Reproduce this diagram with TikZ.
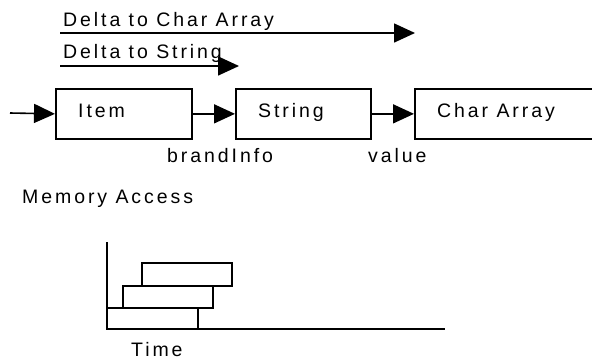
\documentclass[tikz,border=0pt]{standalone}
\usepackage{fontspec}
\setmainfont{Liberation Sans}[LetterSpace=15]
\usetikzlibrary{arrows.meta}
\begin{document}
\begin{tikzpicture}[x=1pt,y=-1pt,
  box/.style={draw,line width=1.7pt,rectangle,inner sep=0pt,anchor=north west,minimum height=50pt},
  lbl/.style={anchor=base west,inner sep=0pt,font=\fontsize{19.5}{22}\selectfont},
  arr/.style={line width=1.6pt,-{Triangle[length=21pt,width=19pt]}},
  bar/.style={draw,line width=1.7pt},
  axis/.style={line width=1.3pt}]
\useasboundingbox (0,0) rectangle (592,360);
% delta arrows
\coordinate (d1s) at (60,33);
\coordinate (d1e) at (415,33);
\coordinate (d2s) at (60,66);
\coordinate (d2e) at (239,66);
\draw[arr] (d1s) -- (d1e);
\draw[arr] (d2s) -- (d2e);
\node[lbl] (t1) at (63,26) {Delta to Char Array};
\node[lbl] (t2) at (63,58) {Delta to String};
% boxes
\node[box,minimum width=136pt] (item) at (55,88) {};
\node[box,minimum width=135pt] (string) at (235,88) {};
\node[box,minimum width=190pt] (chararr) at (414,88) {};
\node[lbl] (titem) at (78,117) {Item};
\node[lbl] (tstring) at (258,117) {String};
\node[lbl] (tchar) at (437,117) {Char Array};
\coordinate (in) at (10,113);
\draw[arr] (in) -- (item.west);
\draw[arr] (item.east) -- (string.west);
\draw[arr] (string.east) -- (chararr.west);
\node[lbl] (brand) at (167,162) {brandInfo};
\node[lbl] (value) at (368,162) {value};
\node[lbl] (mem) at (22,203) {Memory Access};
% timing chart
\coordinate (ytop) at (107,242);
\coordinate (orig) at (107,329);
\coordinate (xend) at (445,329);
\draw[axis] (ytop) -- (orig) -- (xend);
\draw[bar] (107,308) rectangle (198,329);
\draw[bar] (123,286) rectangle (213,308);
\draw[bar] (142,263) rectangle (232,286);
\node[lbl] (time) at (131,356) {Time};
\end{tikzpicture}
\end{document}
